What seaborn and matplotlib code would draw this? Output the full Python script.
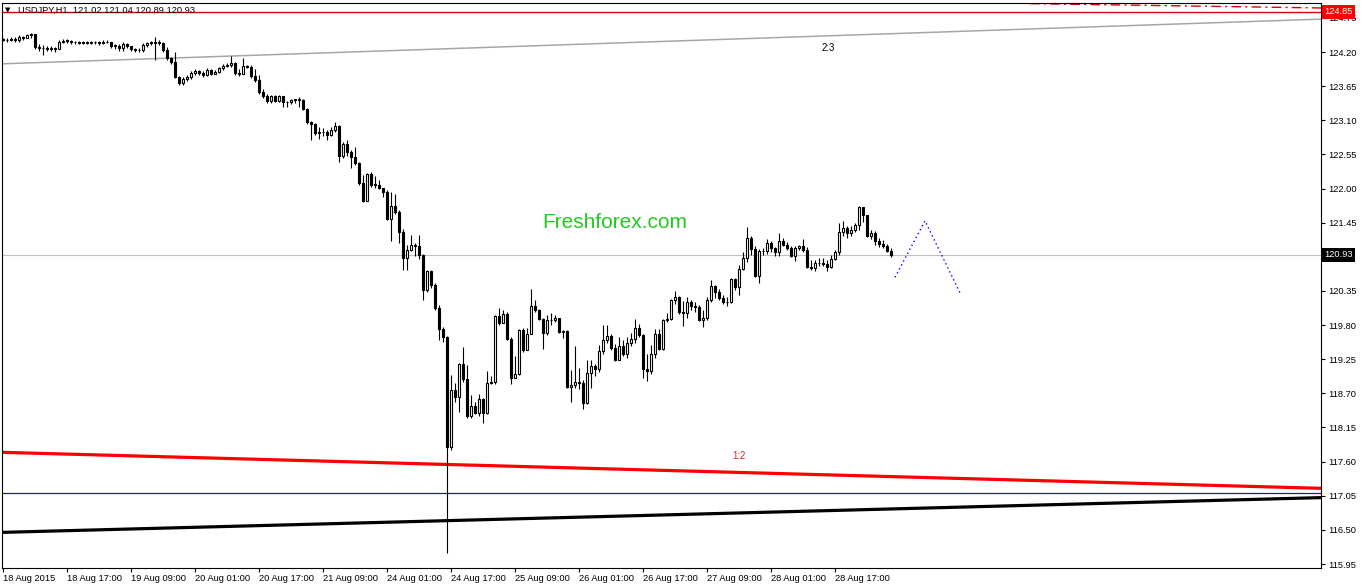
import matplotlib
matplotlib.use("Agg")
import matplotlib.pyplot as plt
import numpy as np
import pandas as pd
import seaborn as sns

# ---------------- data ----------------
title_text = "USDJPY,H1  121.02 121.04 120.89 120.93"
time_labels = ["18 Aug 2015", "18 Aug 17:00", "19 Aug 09:00", "20 Aug 01:00",
               "20 Aug 17:00", "21 Aug 09:00", "24 Aug 01:00", "24 Aug 17:00",
               "25 Aug 09:00", "26 Aug 01:00", "26 Aug 17:00", "27 Aug 09:00",
               "28 Aug 01:00", "28 Aug 17:00"]
bars_per_label = 16

first_open = 124.41
close = [
    124.39, 124.39, 124.41, 124.39, 124.44, 124.43, 124.47, 124.49, 124.28, 124.26,
    124.26, 124.25, 124.26, 124.25, 124.36, 124.38, 124.38, 124.36, 124.36, 124.35,
    124.36, 124.35, 124.36, 124.36, 124.35, 124.36, 124.36, 124.30, 124.30, 124.26,
    124.33, 124.30, 124.25, 124.23, 124.23, 124.31, 124.35, 124.35, 124.36, 124.35,
    124.23, 124.10, 124.04, 123.80, 123.70, 123.77, 123.80, 123.86, 123.89, 123.86,
    123.83, 123.91, 123.85, 123.88, 123.94, 123.98, 123.99, 124.02, 123.86, 123.85,
    123.98, 123.96, 123.81, 123.75, 123.56, 123.49, 123.41, 123.49, 123.41, 123.49,
    123.39, 123.39, 123.43, 123.43, 123.43, 123.28, 123.07, 123.04, 122.90, 122.91,
    122.91, 122.86, 122.94, 123.01, 122.52, 122.72, 122.59, 122.51, 122.41, 122.09,
    121.80, 122.23, 122.06, 122.06, 122.01, 121.94, 121.51, 121.72, 121.62, 121.30,
    120.88, 121.01, 121.09, 121.07, 120.93, 120.37, 120.67, 120.45, 120.08, 119.74,
    119.61, 117.84, 118.75, 118.64, 119.17, 118.93, 118.34, 118.50, 118.38, 118.61,
    118.38, 118.87, 118.88, 119.95, 119.83, 119.98, 119.58, 118.95, 119.01, 119.72,
    119.40, 119.66, 120.11, 120.04, 119.90, 119.67, 119.88, 119.88, 119.91, 119.69,
    119.70, 118.80, 118.83, 118.88, 118.87, 118.54, 119.03, 119.14, 119.09, 119.38,
    119.56, 119.62, 119.43, 119.24, 119.46, 119.33, 119.51, 119.58, 119.75, 119.64,
    119.09, 119.06, 119.33, 119.66, 119.41, 119.88, 119.90, 120.20, 120.25, 120.01,
    119.99, 120.17, 120.11, 120.09, 119.88, 119.91, 120.20, 120.43, 120.33, 120.24,
    120.17, 120.17, 120.54, 120.41, 120.70, 120.88, 121.20, 121.03, 120.59, 120.99,
    120.99, 121.12, 121.04, 120.98, 121.15, 121.09, 121.04, 120.91, 121.04, 121.07,
    121.01, 120.74, 120.72, 120.80, 120.80, 120.78, 120.74, 120.87, 120.98, 121.30,
    121.36, 121.28, 121.33, 121.41, 121.70, 121.57, 121.24, 121.28, 121.15, 121.11,
    121.07, 120.99, 120.93]
high = [
    124.43, 124.43, 124.44, 124.44, 124.47, 124.46, 124.49, 124.51, 124.49, 124.33,
    124.31, 124.30, 124.30, 124.28, 124.39, 124.41, 124.41, 124.39, 124.38, 124.38,
    124.38, 124.38, 124.38, 124.38, 124.38, 124.39, 124.39, 124.36, 124.33, 124.33,
    124.36, 124.35, 124.30, 124.26, 124.26, 124.35, 124.36, 124.38, 124.44, 124.39,
    124.36, 124.28, 124.12, 124.20, 123.81, 123.80, 123.83, 123.89, 123.93, 123.91,
    123.89, 123.94, 123.93, 123.91, 123.96, 124.01, 124.02, 124.14, 124.04, 123.93,
    124.10, 123.99, 123.99, 123.93, 123.83, 123.60, 123.52, 123.51, 123.51, 123.51,
    123.43, 123.41, 123.44, 123.44, 123.48, 123.44, 123.30, 123.09, 123.06, 122.99,
    122.98, 122.94, 122.99, 123.07, 123.02, 122.75, 122.78, 122.62, 122.67, 122.43,
    122.22, 122.25, 122.27, 122.20, 122.14, 121.96, 121.98, 121.94, 121.91, 121.65,
    121.35, 121.09, 121.25, 121.12, 121.25, 120.95, 120.69, 120.69, 120.48, 120.12,
    119.77, 119.62, 119.00, 118.87, 119.19, 119.45, 119.16, 118.67, 118.56, 118.69,
    118.63, 119.06, 118.98, 119.96, 120.08, 120.04, 120.01, 119.61, 119.30, 119.74,
    119.75, 119.75, 120.38, 120.20, 120.06, 119.91, 119.96, 119.99, 119.96, 119.91,
    119.72, 119.72, 119.08, 119.46, 119.11, 118.92, 119.24, 119.24, 119.17, 119.48,
    119.80, 119.80, 119.66, 119.50, 119.61, 119.56, 119.61, 119.67, 119.90, 119.82,
    119.66, 119.33, 119.48, 119.74, 119.74, 119.90, 119.99, 120.22, 120.35, 120.27,
    120.19, 120.25, 120.20, 120.17, 120.12, 120.04, 120.25, 120.53, 120.45, 120.38,
    120.28, 120.25, 120.56, 120.56, 120.77, 120.98, 121.38, 121.24, 121.07, 121.03,
    121.04, 121.19, 121.15, 121.06, 121.28, 121.20, 121.14, 121.07, 121.07, 121.09,
    121.19, 121.06, 120.85, 120.85, 120.88, 120.88, 120.85, 120.93, 121.01, 121.45,
    121.48, 121.40, 121.40, 121.45, 121.72, 121.64, 121.57, 121.33, 121.32, 121.20,
    121.17, 121.11, 121.04]
low = [
    124.38, 124.36, 124.38, 124.36, 124.36, 124.39, 124.43, 124.43, 124.25, 124.22,
    124.15, 124.22, 124.22, 124.20, 124.25, 124.35, 124.35, 124.33, 124.33, 124.33,
    124.33, 124.33, 124.33, 124.33, 124.31, 124.33, 124.35, 124.26, 124.25, 124.22,
    124.22, 124.26, 124.22, 124.20, 124.20, 124.20, 124.28, 124.31, 124.07, 124.31,
    124.20, 124.07, 124.01, 123.78, 123.67, 123.67, 123.73, 123.77, 123.83, 123.83,
    123.80, 123.81, 123.83, 123.85, 123.86, 123.91, 123.96, 123.96, 123.83, 123.81,
    123.88, 123.94, 123.78, 123.72, 123.52, 123.46, 123.38, 123.38, 123.39, 123.39,
    123.31, 123.31, 123.36, 123.38, 123.31, 123.27, 123.04, 122.78, 122.86, 122.80,
    122.85, 122.78, 122.85, 122.91, 122.43, 122.49, 122.52, 122.33, 122.38, 122.06,
    121.78, 121.80, 122.02, 122.01, 121.99, 121.86, 121.49, 121.15, 121.59, 121.12,
    120.69, 120.69, 120.99, 120.91, 120.87, 120.20, 120.33, 120.40, 120.04, 119.56,
    119.53, 116.13, 117.79, 118.56, 118.40, 118.88, 118.30, 118.30, 118.37, 118.34,
    118.22, 118.37, 118.85, 118.85, 119.80, 119.83, 119.56, 118.85, 118.95, 119.00,
    119.37, 119.40, 119.66, 120.01, 119.88, 119.41, 119.64, 119.80, 119.85, 119.67,
    119.59, 118.79, 118.56, 118.79, 118.77, 118.45, 118.53, 118.79, 118.98, 119.04,
    119.33, 119.51, 119.40, 119.22, 119.24, 119.30, 119.27, 119.46, 119.51, 119.61,
    118.95, 118.90, 119.01, 119.27, 119.40, 119.40, 119.85, 119.88, 120.14, 119.98,
    119.79, 119.91, 120.04, 120.01, 119.87, 119.77, 119.88, 120.17, 120.24, 120.20,
    120.14, 120.11, 120.16, 120.37, 120.28, 120.69, 120.82, 120.93, 120.58, 120.48,
    120.93, 120.95, 120.98, 120.91, 120.91, 121.07, 121.01, 120.90, 120.83, 121.01,
    120.98, 120.72, 120.69, 120.67, 120.75, 120.75, 120.67, 120.72, 120.85, 120.93,
    121.24, 121.20, 121.24, 121.30, 121.33, 121.46, 121.22, 121.19, 121.09, 121.06,
    121.04, 120.98, 120.89]

y_tick_values = [124.75, 124.20, 123.65, 123.10, 122.55, 122.00, 121.45, 120.90,
                 120.35, 119.80, 119.25, 118.70, 118.15, 117.60, 117.05, 116.50, 115.95]

# drawn objects (bar index, price)
red_trend_x = [-0.25, 329.5]
red_trend_y = [117.75, 117.17]
black_trend_x = [-0.25, 329.5]
black_trend_y = [116.46, 117.02]
gray_trend_x = [-0.25, 329.5]
gray_trend_y = [124.01, 124.73]
red_dash_x = [256.75, 329.5]
red_dash_y = [124.98, 124.91]
projection_x = [223, 230.5, 239.25]
projection_y = [120.57, 121.48, 120.32]
navy_level = 117.09
red_level = 124.85
last_price = 120.93
fib_labels = [("2:3", 206.25, 124.27, "black"), ("1:2", 184.0, 117.69, "#c8282d")]
watermark = ("Freshforex.com", 153.0, 121.46)

# ---------------- figure ----------------
sns.set_theme(style="white")
plt.rcParams['font.family'] = ['Liberation Sans', 'DejaVu Sans']
plt.rcParams['text.color'] = 'black'
plt.rcParams['xtick.color'] = 'black'
plt.rcParams['ytick.color'] = 'black'

W, H = 1362, 586
fig = plt.figure(figsize=(W / 100, H / 100), dpi=100)
fig.patch.set_facecolor('white')
ax = fig.add_axes([2 / W, (H - 568) / H, (1321 - 2) / W, (568 - 3) / H])
ax.set_facecolor('white')

c = np.array(close)
hi = np.array(high)
lo = np.array(low)
o = np.r_[first_open, c[:-1]]
idx = np.arange(len(c))
hi = np.maximum(hi, np.maximum(o, c))
lo = np.minimum(lo, np.minimum(o, c))

# horizontal levels and trend lines
ax.axhline(last_price, color='#c0c0c0', lw=0.8, zorder=1)
ax.axhline(red_level, color='#e00000', lw=1.0, zorder=1)
ax.axhline(navy_level, color='#1a1aa8', lw=0.9, zorder=1)
sns.lineplot(x=gray_trend_x, y=gray_trend_y, ax=ax, color='#a6a6a6', lw=1.1,
             errorbar=None, legend=False, zorder=1)
sns.lineplot(x=red_trend_x, y=red_trend_y, ax=ax, color='#ff0000', lw=2.3,
             errorbar=None, legend=False, zorder=2)
sns.lineplot(x=black_trend_x, y=black_trend_y, ax=ax, color='black', lw=2.3,
             errorbar=None, legend=False, zorder=2)
sns.lineplot(x=red_dash_x, y=red_dash_y, ax=ax, color='#e00000', lw=1.0,
             linestyle=(0, (7, 3, 1.5, 3)), errorbar=None, legend=False, zorder=2)
sns.lineplot(x=projection_x, y=projection_y, ax=ax, color='#0000ff', lw=1.0,
             linestyle=(0, (1, 2.2)), errorbar=None, legend=False, zorder=2)

# candles
ax.vlines(idx, lo, hi, color='black', lw=0.8, zorder=3)
body = c - o
h = np.where(np.abs(body) < 0.006, 0.006, np.abs(body))
bottom = np.minimum(o, c)
up = c >= o
ax.bar(idx[up], h[up], bottom=bottom[up], width=0.5, color='white',
       edgecolor='black', linewidth=0.8, zorder=4)
ax.bar(idx[~up], h[~up], bottom=bottom[~up], width=0.5, color='black',
       edgecolor='black', linewidth=0.8, zorder=4)

# texts
for txt, xi, yi, col in fib_labels:
    ax.text(xi, yi, txt, color=col, fontsize=7, ha='center', va='center', zorder=5)
ax.text(watermark[1], watermark[2], watermark[0], color='#22c922', fontsize=15,
        ha='center', va='center', zorder=5)

# axes limits
ax.set_xlim(-0.25, 329.5)
ax.set_ylim(115.886, 124.99)

# axes styling
for s in ax.spines.values():
    s.set_color('black')
    s.set_linewidth(0.8)
ax.yaxis.tick_right()
ax.set_yticks(y_tick_values)
# the 120.90 label sits under the last-price box, as in the terminal
ax.set_yticklabels(["" if abs(v - last_price) < 0.1 else f"{v:.2f}" for v in y_tick_values])
ax.set_xticks([k * bars_per_label for k in range(len(time_labels))])
ax.set_xticklabels(time_labels, ha='left')
ax.tick_params(axis='y', direction='out', length=3, width=0.8, labelsize=6.7, pad=2,
               right=True, left=False)
ax.tick_params(axis='x', direction='out', length=3, width=0.8, labelsize=6.7, pad=1.5,
               bottom=True)
ax.grid(False)

# price boxes on the right axis
for price, fc in [(red_level, '#ff0000'), (last_price, 'black')]:
    ax.annotate(f"{price:.2f}", xy=(1.0, price), xycoords=('axes fraction', 'data'),
                xytext=(2.5, 0), textcoords='offset points', ha='left', va='center',
                color='white', fontsize=6.7, zorder=10, annotation_clip=False,
                bbox=dict(boxstyle='square,pad=0.25', fc=fc, ec='none'))

# chart header
fig.text(8 / W, 1 - 10 / H, "▼", fontsize=5, color='black', ha='center', va='center',
         family='DejaVu Sans')
fig.text(18 / W, 1 - 10 / H, title_text, fontsize=6.7, color='black', ha='left',
         va='center')

fig.savefig("out.png", dpi=100, facecolor='white')
